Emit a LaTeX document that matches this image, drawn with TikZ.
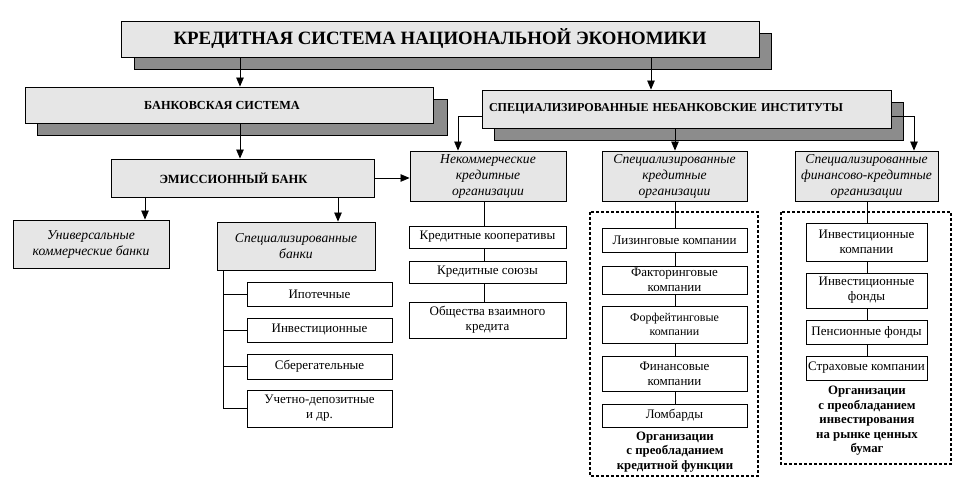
\documentclass[tikz,border=0pt]{standalone}
\usepackage{fontspec}
\setmainfont{Liberation Serif}
\usetikzlibrary{arrows.meta,calc}
\definecolor{facegray}{HTML}{E6E6E6}
\definecolor{shadowgray}{HTML}{8C8C8C}
\begin{document}
\begin{tikzpicture}[x=1pt,y=-1pt,
  face/.style={draw, line width=0.9pt, fill=facegray, inner sep=0pt, align=center},
  shadowbox/.style={draw, line width=0.9pt, fill=shadowgray},
  ibox/.style={face, font=\itshape\fontsize{13.6}{16}\selectfont},
  wbox/.style={draw, line width=0.75pt, fill=white, inner sep=0pt, align=center, font=\fontsize{13}{15}\selectfont},
  arr/.style={line width=0.75pt, -{Triangle[length=9pt,width=7.5pt]}},
  conn/.style={line width=0.75pt},
  dashbox/.style={line width=1.3pt, dash pattern=on 3pt off 2pt},
  note/.style={align=center, inner sep=0pt, font=\bfseries\fontsize{12.8}{14.5}\selectfont}]
\useasboundingbox (0,0) rectangle (967,502);
\fill[white] (0,0) rectangle (967,502);
% shadows
\draw[shadowbox] (134,33) rectangle (771,69);
\draw[shadowbox] (37,99) rectangle (447,135);
\draw[shadowbox] (494,102) rectangle (903,140);
% main faces
\node[face, minimum width=638, minimum height=36, font=\bfseries\fontsize{18.8}{22}\selectfont] (top) at (440,39) {КРЕДИТНАЯ СИСТЕМА НАЦИОНАЛЬНОЙ ЭКОНОМИКИ};
\node[face, minimum width=408, minimum height=36, font=\bfseries\fontsize{12.3}{15}\selectfont] (bank) at (229,105) {\hspace*{-14pt}БАНКОВСКАЯ СИСТЕМА};
\node[face, minimum width=409, minimum height=38, text width=395, align=left, font=\bfseries\fontsize{12.1}{15}\selectfont] (nonbank) at (686.5,109) {СПЕЦИАЛИЗИРОВАННЫЕ НЕБАНКОВСКИЕ ИНСТИТУТЫ};
\node[face, minimum width=263, minimum height=38, font=\bfseries\fontsize{12.5}{15}\selectfont] (emiss) at (242.5,178) {\hspace*{-18pt}ЭМИССИОННЫЙ БАНК};
% level 3
\node[ibox, minimum width=156, minimum height=48] (univ) at (91,244) {Универсальные\\коммерческие банки};
\node[ibox, minimum width=158, minimum height=48] (specb) at (296,246) {Специализированные\\банки};
\node[ibox, minimum width=156, minimum height=50] (nekom) at (488,176) {Некоммерческие\\кредитные\\организации};
\node[ibox, minimum width=145, minimum height=50] (speccred) at (674.5,176) {Специализированные\\кредитные\\организации};
\node[ibox, minimum width=143, minimum height=50] (specfin) at (866.5,176) {Специализированные\\финансово-кредитные\\организации};
% dashed groups
\draw[dashbox] (590,212) rectangle (758,476);
\draw[dashbox] (781,212) rectangle (951,464);
% specialized banks
\node[wbox, minimum width=145, minimum height=24] (ipot) at (319.5,294) {Ипотечные};
\node[wbox, minimum width=145, minimum height=24] (inv) at (319.5,330) {Инвестиционные};
\node[wbox, minimum width=145, minimum height=25] (sber) at (319.5,366.5) {Сберегательные};
\node[wbox, minimum width=145, minimum height=37] (uchet) at (319.5,408.5) {Учетно-депозитные\\и др.};
% non-commercial
\node[wbox, minimum width=157, minimum height=22] (kk) at (487.5,237) {Кредитные кооперативы};
\node[wbox, minimum width=157, minimum height=22] (ks) at (487.5,272) {Кредитные союзы};
\node[wbox, minimum width=157, minimum height=36] (obv) at (487.5,320) {Общества взаимного\\кредита};
% specialized credit
\node[wbox, minimum width=145, minimum height=24] (liz) at (674.5,240) {Лизинговые компании};
\node[wbox, minimum width=145, minimum height=28] (fact) at (674.5,280) {Факторинговые\\компании};
\node[wbox, minimum width=145, minimum height=37, font=\fontsize{12}{14}\selectfont] (forf) at (674.5,324.5) {Форфейтинговые\\компании};
\node[wbox, minimum width=145, minimum height=35] (fin) at (674.5,373.5) {Финансовые\\компании};
\node[wbox, minimum width=145, minimum height=23] (lomb) at (674.5,415.5) {Ломбарды};
\node[note] (note1) at (675,452) {Организации\\с преобладанием\\кредитной функции};
% specialized fin-credit
\node[wbox, minimum width=121, minimum height=38] (ik) at (866.5,242) {Инвестиционные\\компании};
\node[wbox, minimum width=121, minimum height=35] (if) at (866.5,290.5) {Инвестиционные\\фонды};
\node[wbox, minimum width=121, minimum height=24] (pf) at (866.5,332) {Пенсионные фонды};
\node[wbox, minimum width=121, minimum height=24] (sk) at (866.5,368) {Страховые компании};
\node[note] (note2) at (867,421) {Организации\\с преобладанием\\инвестирования\\на рынке ценных\\бумаг};
% arrows
\draw[arr] (240,0 |- top.south) -- (240,0 |- bank.north);
\draw[arr] (651,0 |- top.south) -- (651,0 |- nonbank.north);
\draw[arr] (240,0 |- bank.south) -- (240,0 |- emiss.north);
\draw[arr] (emiss.east) -- (emiss.east -| nekom.west);
\draw[arr] (145,0 |- emiss.south) -- (145,0 |- univ.north);
\draw[arr] (338,0 |- emiss.south) -- (338,0 |- specb.north);
\draw[arr] (nonbank.west |- 0,116) -| (458,0 |- nekom.north);
\draw[arr] (nonbank.east |- 0,116) -| (914,0 |- specfin.north);
\draw[arr] (675,0 |- nonbank.south) -- (675,0 |- speccred.north);
% chains
\draw[conn] (223,0 |- specb.south) -- (223,0 |- uchet.west) -- (uchet.west);
\draw[conn] (223,0 |- ipot.west) -- (ipot.west);
\draw[conn] (223,0 |- inv.west) -- (inv.west);
\draw[conn] (223,0 |- sber.west) -- (sber.west);
\draw[conn] (484,0 |- nekom.south) -- (484,0 |- kk.north);
\draw[conn] (484,0 |- kk.south) -- (484,0 |- ks.north);
\draw[conn] (484,0 |- ks.south) -- (484,0 |- obv.north);
\draw[conn] (675,0 |- speccred.south) -- (675,0 |- liz.north);
\draw[conn] (675,0 |- liz.south) -- (675,0 |- fact.north);
\draw[conn] (675,0 |- fact.south) -- (675,0 |- forf.north);
\draw[conn] (675,0 |- forf.south) -- (675,0 |- fin.north);
\draw[conn] (675,0 |- fin.south) -- (675,0 |- lomb.north);
\draw[conn] (867,0 |- specfin.south) -- (867,0 |- ik.north);
\draw[conn] (867,0 |- ik.south) -- (867,0 |- if.north);
\draw[conn] (867,0 |- if.south) -- (867,0 |- pf.north);
\draw[conn] (867,0 |- pf.south) -- (867,0 |- sk.north);
\end{tikzpicture}
\end{document}
